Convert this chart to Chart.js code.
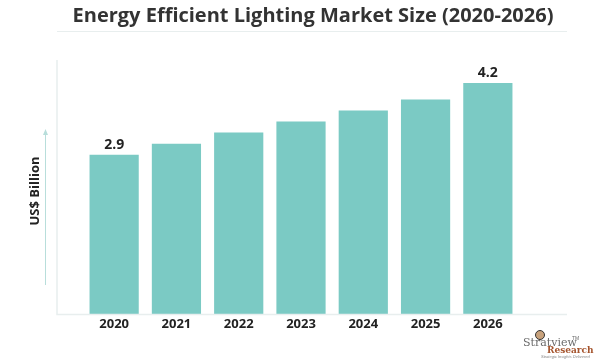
<!DOCTYPE html>
<html>
<head>
<meta charset="utf-8">
<script src="https://cdn.jsdelivr.net/npm/chart.js@4"></script>
<style>
  html, body { margin: 0; padding: 0; background: #fff; }
  #c { display: block; }
</style>
</head>
<body>
<canvas id="c" width="605" height="361"></canvas>
<script>
'use strict';

const TITLE   = 'Energy Efficient Lighting Market Size (2020-2026)';
const Y_TITLE = 'US$ Billion';
const years   = ['2020', '2021', '2022', '2023', '2024', '2025', '2026'];
const values  = [2.9, 3.1, 3.3, 3.5, 3.7, 3.9, 4.2];
const shown   = [0, 6];   // bars that carry a value label

const C = {
  bar:   '#7bcac4',
  text:  '#222222',
  title: '#333333',
  axis:  '#e8eeee',
  arrow: '#b8dedb',
};
const FONT = '"Open Sans", sans-serif';

// Frame, title, y caption, value labels and the logo
const decor = {
  id: 'decor',
  afterDraw(chart) {
    const { ctx, chartArea: a } = chart;
    ctx.save();

    // title + rule
    ctx.fillStyle = C.title;
    ctx.font = `bold 20px ${FONT}`;
    ctx.textAlign = 'center';
    ctx.textBaseline = 'middle';
    ctx.fillText(TITLE, 313, 16);
    ctx.strokeStyle = C.axis;
    ctx.lineWidth = 1;
    ctx.beginPath();
    ctx.moveTo(57, 31.5); ctx.lineTo(567, 31.5);
    ctx.stroke();

    // axis lines
    ctx.lineWidth = 1.5;
    ctx.beginPath();
    ctx.moveTo(57, 60); ctx.lineTo(57, a.bottom);
    ctx.lineTo(567, a.bottom);
    ctx.stroke();

    // arrow
    ctx.strokeStyle = C.arrow;
    ctx.fillStyle = C.arrow;
    ctx.lineWidth = 1;
    ctx.beginPath();
    ctx.moveTo(45.5, 285); ctx.lineTo(45.5, 134);
    ctx.stroke();
    ctx.beginPath();
    ctx.moveTo(45.5, 129); ctx.lineTo(43, 135); ctx.lineTo(48, 135);
    ctx.closePath(); ctx.fill();

    // y caption
    ctx.save();
    ctx.translate(35, 191);
    ctx.rotate(-Math.PI / 2);
    ctx.fillStyle = C.text;
    ctx.font = `bold 13px ${FONT}`;
    ctx.fillText(Y_TITLE, 0, 0);
    ctx.restore();

    // value labels
    const meta = chart.getDatasetMeta(0);
    ctx.fillStyle = C.text;
    ctx.font = `bold 14px ${FONT}`;
    ctx.textBaseline = 'bottom';
    shown.forEach(i => {
      const el = meta.data[i];
      ctx.fillText(values[i].toFixed(1), el.x, el.y - 3);
    });

    // logo
    ctx.textBaseline = 'alphabetic';
    ctx.textAlign = 'left';
    ctx.fillStyle = '#6b6b6b';
    ctx.font = '11px "DejaVu Serif", serif';
    ctx.fillText('Stratview', 523, 346);
    ctx.font = '5px sans-serif';
    ctx.fillText('TM', 572, 340);
    ctx.fillStyle = '#a5542d';
    ctx.font = 'bold 9px "DejaVu Serif", serif';
    ctx.fillText('Research', 547, 353);
    ctx.fillStyle = '#888';
    ctx.font = 'italic 4px sans-serif';
    ctx.fillText('Strategic Insights Delivered', 541, 358);
    ctx.fillStyle = '#c8a27c';
    ctx.strokeStyle = '#333';
    ctx.lineWidth = 1;
    ctx.beginPath();
    ctx.arc(540, 335, 4.5, 0, Math.PI * 2);
    ctx.fill(); ctx.stroke();

    ctx.restore();
  }
};

new Chart(document.getElementById('c'), {
  type: 'bar',
  data: {
    labels: years,
    datasets: [{
      data: values,
      backgroundColor: C.bar,
      borderWidth: 0,
      categoryPercentage: 1,
      barPercentage: 0.79,
    }],
  },
  options: {
    responsive: false,
    animation: false,
    layout: { padding: { left: 83, right: 86, top: 61, bottom: 27 } },
    plugins: { legend: { display: false }, tooltip: { enabled: false } },
    scales: {
      y: { display: false, min: 0, max: 4.6 },
      x: {
        grid: { display: false, drawTicks: false },
        border: { display: false },
        ticks: { color: C.text, padding: 2, font: { family: FONT, size: 13, weight: 'bold' } },
      },
    },
  },
  plugins: [decor],
});
</script>
</body>
</html>
